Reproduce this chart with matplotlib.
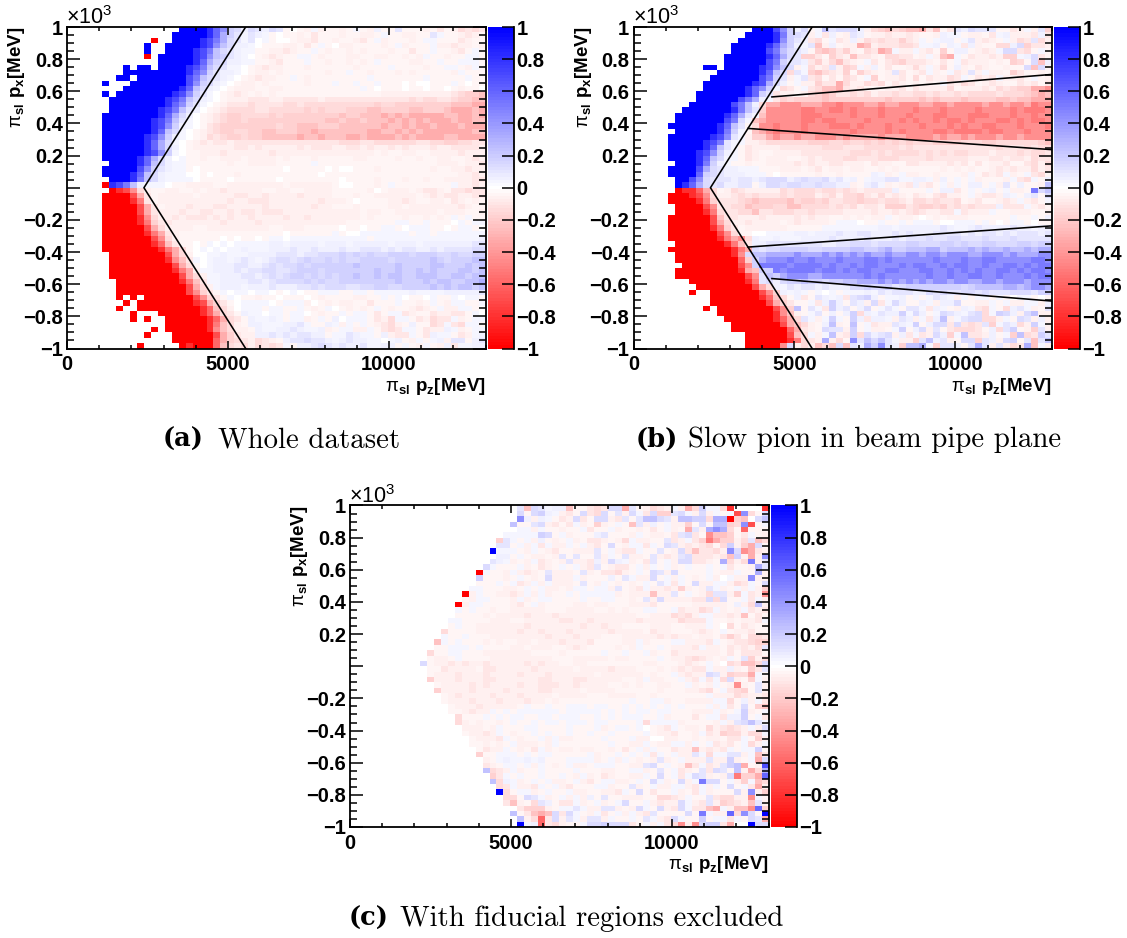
import numpy as np
import matplotlib
matplotlib.use("Agg")
import matplotlib.pyplot as plt
from matplotlib.colors import LinearSegmentedColormap
from matplotlib.ticker import FixedLocator, FixedFormatter

# cell values read by eye: '.' empty, '0' zero, lowercase negative, uppercase positive
LEVEL_NAMES = "abcdefghijklm"
LEVEL_SIZES = [.03, .06, .10, .14, .18, .24, .32, .43, .52, .60, .70, .82, 1.0]

whole_dataset = [
".......... ......MMMM LJHEDBDCBD Ca0abAbaab aAabBaaCaa abacabdcdc",
".......... .....MMMMM LJGECACBAa 0aabacaaab aabbaAaabb aaCAaabcba",
".......... ..m..MMMML KIGDCAC0Aa 00abbcaaba abcaAbaaab aAAaaacbaa",
".......... .M..MMMMML KHFDBBA0aa abbacaAa0b baaaabaAba aaAbbcbbab",
".......... .M..MMMMLK IFDCBAAaab bcbaaAabaa babaaabaac aaAaabcaAa",
".......... .m.MMMMMLK HFECBA0abc baaAAabaaa bbaabbaaba bAaabaaAAa",
".......... ...MMMMMLJ GEDBBAAaab caaaAaabaa babaAaaaab baaAaaAAAa",
"........M. MM.MMMMLKI FDCAA0abcb baaabaaaaa abaaaaAaaa abaaAAabAa",
"........MM MMMMMMMLJH ECBBA0abba baaaaaabaa Aaabaaabab aaaaabAaaa",
".......MM. MMMMMMMKIF DCBA0abcbb aaAabaaaaa aaaAaaaaaa aAaaaaaAaa",
".....M...M MMMMMMMKHE DBA0abbaba aaaabaaaAa aAaaAaaa0a 00aaaAa0aa",
"........MM MMMMMMLJFD BA0abbbaab baaaaaaaaa aaAa0aaa0a a0aa0abaa0",
".....M.MMM MMMMMLKHEC A0abcbabab aaaaaaaaaa aaaaabbbbb bbbbbcdeef",
"......MMMM MMMMLKIFDB A0abbbcccb bcccccbccc cccccccccd cddccdeeff",
"......MMMM MMMMLJHECA 0abcccdccc cddcdddddd ddddeddeee eeeeefffgg",
"......MMMM MMMLKIFCB0 abcddddccd ddddededdd eeeffeeeef feeefgggfg",
".....MMMMM MMMLJGDB0a bcdeedddde deeeeeeeef eefffgfgfg ggggffggfg",
".....MMMMM MMLKIFCA0a bcdeedeeee eeeeeeeffe ffefffgfgf gfgggfggff",
".....MMMMM MMLKHEBA0a cdeeeeeeee deefffeeef fffffgffgf ggfgggfggg",
".....MMMMM MMLJFDA0ab cdeeddeeff eeeffgffff fffggffgfg fgggggggff",
".....MMMMM MLKHEBA0ab dcdeedeeff fffgffgfff ggfggggfgf ggggffgggg",
".....MMMMM MLJGDA0abc bccbcccccc cccccccccd ddccdddddd ccddeeddcc",
".....MMMMM MLJGDB0abb bbbbccbcbb bbbcbcccbb ccbcbbcbcb bbcbbccccb",
".....MMMMM MLKHEA0aab bbcbbbbbbc bbbbbbbbbb bbbbabaabb aabbbbcbbb",
".....MMMMM LJGDB0Aaab aabbbabbbb abaaabaaaa abbaaaabaa baabbaabcb",
"......MMMM LJFDBAAaaa aaabaabbbb aaaaaAaaaa aaaaaaaaaa aaabbbabbc",
".....MMMMM KHECBAAa0a aaaaaaaaaa a0aaaaa0a0 0aaabaaaaa aabaabbcbb",
".....MMMML JFDBAAA00a 0aaabaaaaa aaaaaa0aaa aaaaaaaaaa aaaaaabbcb",
"......MMML IFDBAAAA0a aaa0aaaaaa 0aaaaaaaa0 aaaabaaaba abaabbbbcc",
".....mLKIF BAAA0aabbb baabbbbbbb babbbbbba0 0aaabaAaaa aaaaaAbbcb",
"......mlkh dbaabbaaba bbcbbbbbaa bbaabbbbaa aaab0abbba bccbaccdcc",
".....mmmmk gcabbbbbab bbbbccbbcb bbbcbbbbaa abaabbbbbb abcbccbbcc",
".....mmmml icabbbbbbb bbbcbbcccb bbbbbbcbbb a0aaaabbcb aabbacbaba",
".....mmmmm kgcabbbcbb bccbbbbbcb bbbbbcbbaa abaaaabbab bbbbbbcbaa",
".....mmmmm kgcbbbcbbc cbbcbccbcc cbbbbbbbbb bbabbaabbb bbbabbbaab",
".....mmmmm lhdbbcbccc bcbcbbcbbb bcbbcbbbbb bbabaaaaba ababaAaAaa",
".....mmmmm lieccbbbbb bbcbbbbcbb bbbbbbbbbb aaaaaaaAAa aAaaa0AaAA",
".....mmmmm mkgdbbbbaa bbbbbbbbba abbbaaaaa0 aa0aaAAa0A AAaa0aAAa0",
".....mmmmm mligcbaaaa aaaaaaaaaa a0aaaaaaAa 00AAAAAAAa AAaAAAAAAA",
".....mmmmm mmkhdbaaaa aa0a0aa0aA A0AAAAAAAA AAAaAAAAAA AAAAAAAAAB",
".....mmmmm mmljfcaa0a A0A0AAAAAB BABBBBABBB ABBBBBABBB ABBBBBBBCC",
".....mmmmm mmmligda0A 0A0AABAAAB BBCBBCBBBC BBCCCBCBCC BBCBCCCCDD",
"......mmmm mmmmkgdb00 AABAAABBBB CCCBCCDDDE DEDEDDEEED EEEDDEDDEE",
"......mmmm mmmmlhfcA0 ABBABCBABC DDCDEDDEDE DDEEEEDEEE EEFEDEEEFF",
"......mmmm mmmmmkgda0 ABBBCCBBCD CDDEDEEEEE EFEEEEEFEE EEFFEEEFEF",
"......mmmm mmmmmligbA ABBBCBCCDD CCDEEEDEEE EEEEFEEFEE FEFEEEFFEF",
"......mmmm mmmmmmkgdb AABBBCCBCD CDEEDEDEDE EFEEFEFFEE FFFEEFFEFF",
".......mmm mmmmmmlifc AABBBBCCBC DDDDEDEDDE EEEEEEEFEE EFEFFEEFFG",
".......mmm mmmmmmmkgd bABBBABBBC BBBCCDCDDD CCDDEEDDEE EEFEFEFFEF",
".......mmm mmmmmmmkhe caA0AA0AA0 a0A0aaAAAa aAAaAAAAAB AAAABBBBBC",
".......m.m .mmmmmmmkh ecaA0aabaa 0aaa0abaaa abbaaAaA0a a0AaaA0AAa",
"........m. mmmmmmmmlk geca0AAAA0 aAAAb0abab baacaaaAaa baAabAAaaA",
".......m.. mmmmmmmmml jfdb0AAAaA AaaAabaA0a babaAabaab cbaAbbAAa0",
".........m ...mmmmmml jgdcaBAA0A AaAA0abaaA aAAacaAAcb aacbbccaA0",
".........m .m..mmmmmm ljgdcaBAAB AaAAbaAaB0 AAAacbdAAa cbdccAbaAA",
".......... ....mmmmmm lifdbaBBAA ABBCAaaBAb AaAabcdbaB aadcAcdAAa",
".......... ..m.mmmmmm lhfdbbaBAA BBCBAABbaA AbbAacdcAA acbbBAbaAA",
".......... .m...mmmmm mkgecbbBBC BCBCCBBaAA CBAAaBbccA acBAAacbAB",
".......... .....mmmmm mjgedcbdcb aBCCDCCBAB CBBAA0ABab AaABbCCaBC",
".......... m.....mlmm mjfdcdbdcd cAaBBCDCBC BBCAABBaAa bAabBcAABB",
]

beam_pipe_plane = [
".......... .......MMM KHEBDaAFCD DDBbdefdef fgcfacCBDC CCaacbAbCe",
".......... ......MMMM LIEDCbAcBa bCBabbcbbc baabBAAabb acABbbbcBc",
".......... .....MMMMM LHECBcdaAc bBbdcdccec bAaABBaACb cbaAbdcCdb",
".......... ....MMMMML JGEBACfbBa bbgfbcccdd cAABaBAcBb aaddBDeccb",
".......... ....MMMMMK IFDCBaefec ebadcgfAbb AbcaeaBBab cbADDcdaAa",
".......... ...MMMMMML JGDCeecaec bfccbaddcc abAbfgAacb bcbeeABDca",
".......... ...MMMMMMK IECCBcebdf cbaAcacdec ccbacaAcbb babaedaDfB",
".......... MM.MMMMMLK HFDbAdbcCb edAbBacaab dbAbdaBbac baabaaDfDa",
".......... ..MMMMMMLJ FDdCAefdcb eaecbabCca bcAbaAcbCb Abbaecaaba",
".......... .MMMMMMMKI ECbACcdaca dcaAeabbca dacbbdcAac bcAbbcaAab",
".......... MMMMMMMLKG DBaAbbeccg dbbdcdacba babaAcbdca bcbaacbcac",
".......... MMMMMMLJHE AdcaAcdffg cbcaaabbca cbbbbdabbb cbdcdeeggh",
".........M MMMMMMLJEC cbbabdefec cdcdbccdcc ddcdccdcdd ddcdddefgf",
".........M MMMMMKIGBA cedeeeefee eeeeeefeee efefeeefee eeffeffggg",
"........MM MMMMKIFBdg ghhhggghhi hhhgghgghh hgghhghhhh ghhghhgihh",
".......MMM MMMMLIFCeh hhhhiihhii hihhhihhhh ihhhihhhhi hhhhihiiih",
"......MMMM MMMLJGCAfh hhhhiiihhh hihhhihhhi hhhiihhhii ihhhihhihh",
"......MMMM MMMKIDAfgh hhhhiihiih hhhihhhhih ihhihiihih hhiihihiih",
".....MMMMM MMLJFCadhh ihhhihhhii ihihhhihhh hihhhihihh iihhhihhhi",
"......MMMM MMLIEAafgh ihhhihhhhh hihhhhihih hhhiihiiii hiihhhihhh",
".....MMMMM MLKHCAbeeg hgghgghhhg hgggghgggh hhhghgghgh hhghhghhhh",
".....MMMMM LKICAAbbcd dddddeeedd eddededede dddeeeeddd eeddddddef",
".....MMMMM LJFCAacbbb bccccccddd cccdddddcd cccccccccc ccdcccdcdd",
".....MMMML KHEBAacbaa bbbbcccccc cdddcdcddd dcdcdcddcc cbcccdcddc",
".....MMMML JFDAAacbab bbaabcbccc ddcccdddcc ccdcccccbb bccbccbdcc",
"......MMML IEBAaabaab bbbcbcbbcc bbbacbbaac cbbbbcbcac abbcaacdbd",
".....MMMMK GDCBBAAAaa abbbabcabb abbaababaa aaaabababa abcbcbbdbc",
".....MMMMJ EDCBBBAAAa 0aaaaabaab aaaaBAbaAb baabaaabAa cbcAbaAcda",
"......MMKH DCCCBCCBCD DDBCDCCDBC ABaABBCCAA BBAbBaAaAb aaabAcdAaB",
"......MLJG DCDBBCCaBD DCDDCCDCCB BbaBCAbabc BbcaAbAaBB aAbCaBaabF",
"......mllj gdabdcbbbb bdcdddcddc dcbccccBaa aaAaBBcaAa ABaAbbaIDF",
".....mmmlk hdbbcdcdcc cdcdddbcdb ddecbdbcba cbacdbbaAb ccbBAaBCaD",
".....mmmml iecccdefee eefdeedecc ddeddcddcb ddcdccdabc aabcbAbcaA",
"......mmmm khccddfeee ddffddddcd cdbccbeeec deedecdcdc ccBcccAbca",
"......mmmm lidccddfcc dddccdcccc bbbbcbbcbc dcbbccAcbb bAaabbbaab",
".....mmmmm mkfccbbbcb bbbcbcbbaa bababbAabb a0ababbbaa aaaaAaaAaB",
".....mmmmm mkgdbbcbbb babcbbbbaA AA0aaAaaAa AAAa00AAAa Aa0aAAa0aa",
".....mmmmm mliecabbbb bbaaaaaAAA AAAAABBABB BBBBCBAABC BBBBCBBABB",
".....mmmmm mmkhdaa00A AAABBABBBC BBCCBBBCBC BBBCCCCBCB CCBCBCCCBC",
".....mmmmm mmlighdBAA BAAABBBBCB BBBCBBBCBC CCDCCDDCCC DCCCDCCCCC",
"......mmmm mmmlifcBBC CCCCCCCBBC CDDDCDDDDE EDDDEEDEDD EEDDDEEDEE",
".....mmmmm mmmmligDCD DEEEEDDEEE EFFEEFGEEF FFGGEFFFGF GFFGFFGFGG",
"......mmmm mmmmlhDFFG GGGHGGGHGH GHGHGGHGGH HGHHGHHHGG HHHGHGGGHH",
"......mmmm mmmmmjeEGH HHIHHIHHHI HHHIIHIHHH HHHIHHHIHH IIHHHHHIIH",
".......mmm mmmmmkhEII IIHIIIIHIH HIHIIHHHIH IIHHIHIIHH IHHIIHIHII",
"......mmmm mmmmmlgfEE IHIIIIHIIH IHIIHHIIHH HIIHHIHIHI HHIIHIHIIH",
"......mmmm mmmmmmkhCF EGHHHGGHHH HHHIHIHHHH HHIHHIHHII HHIHHHIHII",
"........mm mmmmmmliCD BDEEFEEDEE FFGGGHGHGH GHGHHGHHGG HHGHHHGHHH",
".........m mmmmmmmkgd BACBCCBCBB BDDEDDECDE EEEEEEEDEF FFFGGFGHHG",
"........m. .mmmmmmmkh eBABAaA0Aa AAABACBCCC BBDCDCCDDC DCCCDDDCEE",
".......... .mmmmmmmlj fdaBcaCBAB cCDEBaAABa AaACBAbAaA AaAa0AAa0a",
".......... .mmmmmmmmk gecaaAcBEB aCBbDcADBa aBAbBBDaab bAaAbbAAbB",
".......... m.mmmmmmmm kheFaCAcEB CaBDaACAaC CAcBAabBAc dAadBCAbaC",
".......... ..mmmmmmmm lhfbaACaBa BEdBACBBEA DBaADCBACD dAEDBbDFbb",
".......... ...mmmmmmm ljgdCAbAEA aEBcBBAbCB bAcBFbACDD ddbAaDCbBb",
".......... ....mmmmmm mkgfdbaBFb aFaAcbbCBA EaBDDcDcdc CeACBdbEAb",
".......... ....mmmmmm mmjgcbaDCC bEaAbbaAEa BDbCacdddc aBdCEabeCb",
".......... ......mmmm mmkfdAbAFb cEdDBCDbBc AcbDBeAFcc bBaAeFdcEC",
".......... ......mmmm mmlidcbGbd aHCFDFCAbb eCFBCbaDDe CBbDEaCfCF",
".......... ......mmmm mhDbdbfdfD fCBGEHCBeF FGAeCCBaCG CbCbdcGfAb",
]

fiducial_excluded = [
".......... .......... ....CfDCAB BfaacdcDDg CabdcbAbgd EAAdl0000l",
".......... .......... ....DaDEBA bcaDcdDaCb DAcDeeCDAb DbAaAkHdaD",
".......... .......... ....HBbBAa cbDcaDDbcC aCFFDCbFFE EdGGmef0DF",
".......... .......... ...FaaCDbc acAbaebaAa fCbBaAbbea DaFFedHkaA",
".......... .......... ....AAbAaa baaAcaaAba abacaAbagC bGHGdajaaa",
".......... .......... ..AAAAAEDa AbaaaBCaaa bAabbacCDc ahffeacAab",
".......... .......... .eCAaAbBab aAbaccbabd AbbaaCcbAc eigeebdCfd",
".......... .......... .CCaAbAcAb bAaAbcaDab AAcAaDCbcb cdadEbegDa",
".......... .......... MAAAabAabc aabbbCaAbc cAaaCabDcf ccdbHDhgcb",
".......... .......... .BBaAabbab CaCaaCbAaC bbaCbcbCDc ccbcfEbgbH",
".......... .......... CBAbabAcba bCbbcBbDBA bacCaAbDDc cbaGdbdIbC",
".......... .........D AaaaAbacba AaAbcCabcc aAbAaAbaAa aAaAcaabGC",
".......... ........mA aabAbcbaCb bbaCbaccdb aAaDCbDaaa aAabbAaaGb",
".......... ........Ea aabaAabaDb bbAbaaaBaC AbbDaAbAab aAb0AbbHbb",
".......... ........aa aAaAcbAbAb bbaCabAaba baAaCAcAaD bbAAbdcAaD",
".......... .......AAa aabbaAaAbb abAAaAAbCa bcAbbcbeba bCAbaAbAbe",
".......... ......mbAa abbcbAbAba aAaAAAAAba bbbfbbCaAa bdCCbeAcbh",
".......... ......abAA aaabAbaAAa aaaAaaAAaa baCbDbbbbc cDdDaaAcAb",
".......... .....mbAAa aaabcaAbaa aabbabbaaa bbbcaaaaab bbbbaBbdFb",
".......... .....AaAaa baabbbbbaa abbbbaabab aaAAaaAcbb dcAbabAcbc",
".......... .....aaaab abbbbcbbbc bbbbbbbbbb baabbbdcdb AAbbcbfaca",
".......... ....AAaaaa bbbaabbbbb ccbbcbbbbb bcbbbbbdcc cAaababbcA",
".......... ....aAaabb bbbbbcbbbb bbbcbbcbba aaabbbaabb bAa0dacbaa",
".......... ...daaaabb bbbbcbbcbb bcbbbbbcbb bbacbbaaab cbaAabbcaa",
".......... ...AaaAaaa bbbbbbbbcb bbcbbbaaab bbbbcbcbba bbacecaddc",
".......... ..fAaAaaab abaabbabbb cbbbcaaaab bAbaaaAAbb bcAabccdee",
".......... ..aaAAAaAa aaabbabbba abcbaaaaba bAaaAabbbc AbbacbcbdC",
".......... .daaAAaaab bbbbbbaaaa baaaaaAaaA aaAbaacbbb bbbacaccca",
".......... .abbaAaaaa bbbbbbbbba aabbbbbabb aaaaAabbcd cbabAaCebd",
".......... Dabbcbcbbc bbbbbcbcbb aabbaaaaaa aabbaaabcb aAa0dcffdD",
".......... .aacbbbbac cbbbbbcbbb bbabbbbcbb baaababcbc cAbbBbaecC",
".......... .abbbcbbbc bbbbcbbbcb bbbbbabbbb bbabaaAbcb bDCbeddgAa",
".......... .ebbbcbbbc cbbbbbbccb bbccbbbbba abAbbaaAbc AcAdDbaeAb",
".......... ..abbbbcbc bbbbcbbccc bbcbbbbaab abaabbaaAb abAabhbaCb",
".......... ..ebbbbcbb bbcbbbbccb bbbabbbbaa aaaabaaabb cdaAcdeaCb",
".......... ...abcbbbb cbbbcbbbba bbbbaaabbb baabaaaaaa aAbbbdcbbc",
".......... ...abbbcbb bcbbbcbbab aaaaaaaaaa AaaAAbaabb bbAAdaBbAc",
".......... ....abbbcb bbbbaAaaAa aAAAaAAaaA aAaAaAaAaa aAbAcaDaef",
".......... ....aabcbb AaAaAAAAAA aAAAAAaAaA aAAaAAaaab bbAbaAEbaA",
".......... .....daaaA aAaAAaaAAa AAAaaAaAaA AAaaAbaaac aAAcBBEaAc",
".......... .....dbaba abaAaaAaAA aAAAaAAaaa aAdAAAAbaa aabAbCDFCA",
".......... ......bbba bAaaaAAaaa aAaaaAbaAA aA0abcAabb adbcdcbAbD",
".......... ......abbc bAabaaAaAa aAaaAaaAaa aaAabbcaab AcbeddbddA",
".......... .......abb bcAabaaAbA bbaaaaAaaa Abb00bbaab abbaccAaeb",
".......... .......aab abaAbbbabA aaaaaaaAaa bbAabbAAbA aAcbcaAdbA",
".......... ........ac bbAabacAba bbabbaabac aAbAaacbbf bcbcAaAAEa",
".......... ........ea aAAAaAaAAa aaaaAbaaAa AaAcAaAbbC AdAACCbAfc",
".......... .........b aABAABABaa aAAAAbaAbA ababCbaAbb bCbbEbaAgD",
".......... .........c baAAaAbAab aAbbaAAAaa bbCDaAabfc AcbCEFgabK",
".......... .........F dcbAbaaAaa aaAaaabbaa AAbaCaAcba CcDCaFbgdG",
".......... .......... ecAaAaaAaa AabAbacbaa bbAaDaAcAD CbabDieegJ",
".......... .......... FdBAbaAaAb baAbcaAAbb aAaDAbaDbA IDDaAbeAfd",
".......... .......... .dcAbbcAaA bcaaaAAbaa CbaAbbAAbc AbAaDaAcgb",
".......... .......... .MdaAAbaAa aAbbaabbcA aDacaaAbac AbaaaDbHbe",
".......... .......... ..ddaDCAba AbAbBaCaab bbaaddcbAa aCcddbbhAa",
".......... .......... ..cfbadCBa ccAbaAbaAD aaAbcbbDAb cCbedcbfCb",
".......... .......... ....ceeeba AACAbbCCba bDAaDbcDAc cfgAbffhJe",
".......... .......... ...FacfgfD cDAabAcaAb AbcCaaaaDa IAbbJdHDaM",
".......... .......... ....FbdjcD bCAbCCbAaa AaCAbcDAaa EaAAcAaDCg",
".......... .......... ....MABjcd baaADDEDDD caAbAcdhbh DEEcg00MDD",
]

captions = [("(a)", "Whole dataset"), ("(b)", "Slow pion in beam pipe plane"),
            ("(c)", "With fiducial regions excluded")]

# fiducial boundaries [MeV]
vee_pz = [5550, 2390, 5550]
vee_px = [1000, 0, -1000]
band_pz_outer = [4300, 13000]
band_px_outer = [565, 705]
band_pz_inner = [3560, 13000]
band_px_inner = [369, 237]

pz_edges = np.linspace(0, 13000, 61)
px_edges = np.linspace(-1000, 1000, 61)
ytick_values = [-1000, -800, -600, -400, -200, 0, 200, 400, 600, 800, 1000]
ytick_labels = ["\u22121", "\u22120.8", "\u22120.6", "\u22120.4", "\u22120.2", "", "0.2", "0.4", "0.6", "0.8", "1"]
cbar_values = [-1, -.8, -.6, -.4, -.2, 0, .2, .4, .6, .8, 1]
cbar_labels = ["\u22121", "\u22120.8", "\u22120.6", "\u22120.4", "\u22120.2", "0", "0.2", "0.4", "0.6", "0.8", "1"]

plt.rcParams.update({
    "font.family": "Liberation Sans", "font.weight": "bold",
    "mathtext.fontset": "custom", "mathtext.rm": "Liberation Sans",
    "mathtext.bf": "Liberation Sans:bold", "mathtext.it": "Liberation Sans:italic",
    "mathtext.default": "regular", "axes.linewidth": 1.3,
})

W, H = 1127, 938
fig = plt.figure(figsize=(W / 100, H / 100), dpi=100)
cmap = LinearSegmentedColormap.from_list("rwb", ["#ff0000", "#ffffff", "#0000ff"], N=101)


def decode(rows):
    out = []
    for row in rows[::-1]:
        chars = row.replace(" ", "").ljust(60, ".")[:60]
        vals = []
        for ch in chars:
            if ch == ".":
                vals.append(np.nan)
            elif ch == "0":
                vals.append(0.0)
            elif ch.islower():
                vals.append(-LEVEL_SIZES[LEVEL_NAMES.index(ch)])
            else:
                vals.append(LEVEL_SIZES[LEVEL_NAMES.index(ch.lower())])
        out.append(vals)
    return np.ma.masked_invalid(np.array(out))


def box(l, t, r, b):
    return [l / W, 1 - b / H, (r - l) / W, (b - t) / H]


def panel(rows, l, t, r, b, cl, cr):
    ax = fig.add_axes(box(l, t, r, b))
    mesh = ax.pcolormesh(pz_edges, px_edges, decode(rows), cmap=cmap, vmin=-1, vmax=1,
                         antialiased=False, linewidth=0, zorder=1)
    ax.set_xlim(0, 13000)
    ax.set_ylim(-1000, 1000)
    ax.xaxis.set_major_locator(FixedLocator([0, 5000, 10000]))
    ax.xaxis.set_minor_locator(FixedLocator(np.arange(0, 13001, 1000)))
    ax.yaxis.set_major_locator(FixedLocator(ytick_values))
    ax.yaxis.set_major_formatter(FixedFormatter(ytick_labels))
    ax.yaxis.set_minor_locator(FixedLocator(np.arange(-1000, 1001, 50)))
    ax.tick_params(axis="x", which="major", direction="in", top=True, length=6, width=1.1,
                   labelsize=14.5, pad=5)
    ax.tick_params(axis="x", which="minor", direction="in", top=True, length=3, width=1.1)
    ax.tick_params(axis="y", which="major", direction="in", right=True, length=9.4, width=1.1,
                   labelsize=14.5, pad=3)
    ax.tick_params(axis="y", which="minor", direction="in", right=True, length=4.7, width=1.1)
    ax.set_axisbelow(False)
    for lab in ax.get_xticklabels() + ax.get_yticklabels():
        lab.set_fontweight("bold")
    ax.set_xlabel(r"$\pi_{\mathbf{sl}}\ \mathbf{p_{z}[MeV]}$", loc="right", fontsize=13.5, labelpad=0)
    ax.xaxis.set_label_coords(1.0, -0.085)
    ax.set_ylabel(r"$\pi_{\mathbf{sl}}\ \mathbf{p_{x}[MeV]}$", loc="top", fontsize=13.5)
    ax.yaxis.set_label_coords(-0.095, 1.0)
    ax.text(-0.002, 1.009, "\u00d710$^{3}$", transform=ax.transAxes, fontsize=15.5, fontweight="normal",
            ha="left", va="baseline")
    cax = fig.add_axes(box(cl, t, cr, b))
    cb = fig.colorbar(mesh, cax=cax)
    cb.outline.set_visible(False)
    cb.set_ticks(cbar_values)
    cb.set_ticklabels(cbar_labels)
    cax.tick_params(axis="y", direction="in", length=9, width=1.1, labelsize=14.5, pad=2)
    cax.spines["right"].set_visible(True)
    cax.spines["right"].set_linewidth(1.3)
    return ax


ax_a = panel(whole_dataset, 67, 27, 485.5, 348.5, 488, 513.5)
ax_b = panel(beam_pipe_plane, 633.5, 27, 1052, 348.5, 1054, 1079.5)
ax_c = panel(fiducial_excluded, 350, 505.5, 768.5, 827, 771, 796.5)

for ax in (ax_a, ax_b):
    ax.plot(vee_pz, vee_px, color="black", lw=1.15, zorder=3, clip_on=True)
for sign in (1, -1):
    ax_b.plot(band_pz_outer, [sign * v for v in band_px_outer], color="black", lw=1.15, zorder=3)
    ax_b.plot(band_pz_inner, [sign * v for v in band_px_inner], color="black", lw=1.15, zorder=3)


def caption(x_tag, x_text, y, tag, text):
    fig.text(x_tag / W, 1 - y / H, tag, family="DejaVu Serif", fontweight="bold", fontsize=18.5, va="baseline")
    fig.text(x_text / W, 1 - y / H, text, family="cmr10", fontweight="normal", fontsize=20.8, va="baseline")


caption(163, 218, 447, *captions[0])
caption(636, 688, 447, *captions[1])
caption(349, 400, 926, *captions[2])

fig.savefig("out.png", dpi=100)
